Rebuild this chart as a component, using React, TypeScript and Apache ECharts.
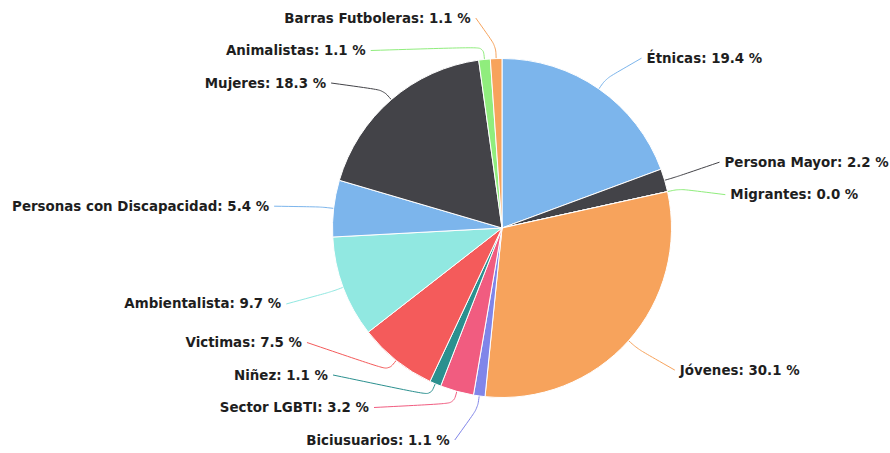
import React, { useEffect, useRef } from "react";
import * as echarts from "echarts";

const categories = [
  "Étnicas",
  "Persona Mayor",
  "Migrantes",
  "Jóvenes",
  "Biciusuarios",
  "Sector LGBTI",
  "Niñez",
  "Victimas",
  "Ambientalista",
  "Personas con Discapacidad",
  "Mujeres",
  "Animalistas",
  "Barras Futboleras",
];
const values = [19.4, 2.2, 0.0, 30.1, 1.1, 3.2, 1.1, 7.5, 9.7, 5.4, 18.3, 1.1, 1.1];
const colors = [
  "#7cb5ec",
  "#434348",
  "#90ed7d",
  "#f7a35c",
  "#8085e9",
  "#f15c80",
  "#2b908f",
  "#f45b5b",
  "#91e8e1",
  "#7cb5ec",
  "#434348",
  "#90ed7d",
  "#f7a35c",
];

// layout settings (Highcharts-like label distribution)
const CX = 502;
const CY = 228;
const RADIUS = 169.5;
const LABEL_R = 210;
const LABEL_DY = 2.5;
const BREAK_R = 182;
const GAP_LEFT = 24;
const GAP_RIGHT = 21;
const SPACING = 32.5;
const MIN_Y = 18;
const MAX_Y = 440;

type LabelPos = { y: number; x: number; left: boolean; points: number[][] };

function computeLabels(): LabelPos[] {
  const total = values.reduce((a, b) => a + b, 0);
  let cum = 0;
  const items = values.map((v, i) => {
    const theta = (2 * Math.PI * (cum + v / 2)) / total;
    cum += v;
    const sin = Math.sin(theta);
    const cos = Math.cos(theta);
    return { i, sin, cos, left: sin < 0, y0: CY + LABEL_DY - LABEL_R * cos, y: 0 };
  });
  [true, false].forEach((side) => {
    const list = items.filter((it) => it.left === side).sort((a, b) => a.y0 - b.y0);
    let clusters = list.map((it) => ({ items: [it], top: it.y0 }));
    const place = (c: { items: typeof list; top: number }) => {
      const n = c.items.length;
      const mean = c.items.reduce((s, it) => s + it.y0, 0) / n;
      let top = mean - ((n - 1) * SPACING) / 2;
      top = Math.max(MIN_Y, Math.min(MAX_Y - (n - 1) * SPACING, top));
      c.top = top;
    };
    clusters.forEach(place);
    let merged = true;
    while (merged) {
      merged = false;
      for (let k = 0; k < clusters.length - 1; k++) {
        const a = clusters[k];
        const b = clusters[k + 1];
        if (b.top < a.top + a.items.length * SPACING - 0.01) {
          const c = { items: a.items.concat(b.items), top: 0 };
          place(c);
          clusters.splice(k, 2, c);
          merged = true;
          break;
        }
      }
    }
    clusters.forEach((c) => c.items.forEach((it, j) => (it.y = c.top + j * SPACING)));
  });
  return items.map((it) => {
    const dy = it.y - CY;
    const h = Math.max(Math.sqrt(Math.max(0, LABEL_R * LABEL_R - dy * dy)), Math.abs(LABEL_R * it.sin));
    const dir = it.left ? -1 : 1;
    const x = CX + dir * (h + (it.left ? GAP_LEFT : GAP_RIGHT));
    const points = [
      [CX + RADIUS * it.sin, CY - RADIUS * it.cos],
      [CX + BREAK_R * it.sin, CY - BREAK_R * it.cos],
      [x - dir * 5, it.y],
    ];
    return { x, y: it.y, left: it.left, points };
  });
}

export default function App() {
  const ref = useRef<HTMLDivElement>(null);
  useEffect(() => {
    if (!ref.current) return;
    const chart = echarts.init(ref.current, null, { renderer: "svg" });
    const labels = computeLabels();
    chart.setOption({
      animation: false,
      backgroundColor: "#ffffff",
      series: [
        {
          type: "pie",
          center: [CX, CY],
          radius: RADIUS,
          startAngle: 90,
          clockwise: true,
          minShowLabelAngle: 0,
          avoidLabelOverlap: false,
          itemStyle: { borderColor: "#ffffff", borderWidth: 1 },
          label: {
            show: true,
            color: "#1e1e1e",
            fontFamily: "DejaVu Sans",
            fontWeight: "bold",
            fontSize: 13.4,
            formatter: (p: any) => `${p.name}: ${Number(p.value).toFixed(1)} %`,
          },
          labelLine: {
            show: true,
            length: 30,
            length2: 24,
            smooth: 0.35,
            lineStyle: { width: 1 },
          },
          labelLayout: (p: any) => {
            const l = labels[p.dataIndex];
            return {
              x: l.x,
              y: l.y,
              align: l.left ? "right" : "left",
              verticalAlign: "middle",
              labelLinePoints: l.points,
            };
          },
          data: categories.map((name, i) => ({
            name,
            value: values[i],
            itemStyle: { color: colors[i] },
          })),
        },
      ],
    });
    return () => chart.dispose();
  }, []);
  return (
    <div
      ref={ref}
      style={{ position: "fixed", left: 0, top: 0, width: 890, height: 453 }}
    />
  );
}
